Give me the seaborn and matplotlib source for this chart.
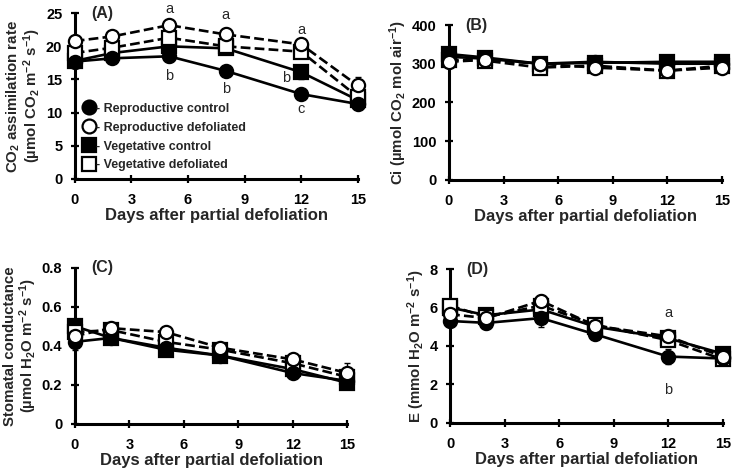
import numpy as np
import pandas as pd
import seaborn as sns
import matplotlib.pyplot as plt
from matplotlib.lines import Line2D

days = [0, 2, 5, 8, 12, 15]
series = ['Reproductive control', 'Reproductive defoliated',
          'Vegetative control', 'Vegetative defoliated']

# (A) CO2 assimilation rate
a_rc = [17.7, 18.2, 18.5, 16.3, 12.8, 11.3]
a_rd = [20.8, 21.5, 23.2, 21.8, 20.3, 14.1]
a_vc = [17.8, 19.0, 20.0, 19.7, 16.1, 11.9]
a_vd = [19.0, 19.8, 21.3, 20.0, 19.2, 12.4]
a_err = [[0.6, 0.6, 0.8, 0.8, 0.8, 0.6], [0.4, 0.5, 0.5, 1.0, 0.5, 1.3],
         [0.5, 0.5, 0.6, 0.6, 1.0, 0.6], [0.5, 0.5, 0.6, 0.6, 0.6, 0.6]]

# (B) Ci
b_rc = [318, 313, 300, 305, 300, 300]
b_rd = [305, 310, 300, 290, 282, 290]
b_vc = [325, 316, 300, 302, 305, 305]
b_vd = [310, 308, 290, 295, 282, 295]
b_err = [[8, 6, 6, 6, 6, 6], [6, 6, 6, 6, 6, 6], [8, 6, 6, 6, 6, 6], [6, 6, 8, 6, 8, 6]]

# (C) stomatal conductance
c_rc = [0.42, 0.44, 0.39, 0.35, 0.26, 0.22]
c_rd = [0.45, 0.49, 0.47, 0.39, 0.33, 0.26]
c_vc = [0.50, 0.44, 0.38, 0.35, 0.28, 0.21]
c_vd = [0.47, 0.48, 0.42, 0.38, 0.31, 0.24]
c_err = [[0.04, 0.02, 0.04, 0.02, 0.02, 0.02], [0.03, 0.02, 0.02, 0.02, 0.02, 0.05],
         [0.03, 0.02, 0.03, 0.02, 0.02, 0.02], [0.03, 0.02, 0.02, 0.02, 0.02, 0.02]]

# (D) E
d_rc = [5.3, 5.2, 5.45, 4.6, 3.45, 3.35]
d_rd = [5.65, 5.45, 6.35, 5.05, 4.5, 3.45]
d_vc = [6.0, 5.6, 5.9, 5.0, 4.4, 3.6]
d_vd = [6.1, 5.5, 6.1, 5.1, 4.3, 3.3]
d_err = [[0.3, 0.3, 0.45, 0.2, 0.4, 0.3], [0.3, 0.3, 0.3, 0.2, 0.2, 0.3],
         [0.3, 0.3, 0.3, 0.2, 0.2, 0.3], [0.3, 0.3, 0.3, 0.2, 0.3, 0.3]]

sns.set_style('white')
plt.rcParams['font.family'] = ['Liberation Sans', 'DejaVu Sans']
plt.rcParams['mathtext.fontset'] = 'custom'
plt.rcParams['mathtext.rm'] = 'Liberation Sans:bold'
plt.rcParams['mathtext.it'] = 'Liberation Sans:bold'
plt.rcParams['mathtext.bf'] = 'Liberation Sans:bold'
plt.rcParams['mathtext.default'] = 'rm'

styles = [dict(marker='o', mfc='black', ls='-'),
          dict(marker='o', mfc='white', ls='--'),
          dict(marker='s', mfc='black', ls='-'),
          dict(marker='s', mfc='white', ls='--')]
draw_order = [2, 3, 0, 1]  # squares first, circles on top

fig = plt.figure(figsize=(7.33, 4.72), dpi=100)
axA = fig.add_axes([0.102, 0.621, 0.386, 0.351])
axB = fig.add_axes([0.6125, 0.619, 0.3725, 0.328])
axC = fig.add_axes([0.102, 0.102, 0.372, 0.331])
axD = fig.add_axes([0.614, 0.104, 0.372, 0.326])

panels = [
    (axA, [a_rc, a_rd, a_vc, a_vd], a_err, 25, 5,
     'CO$_2$ assimilation rate\n(µmol CO$_2$ m$^{-2}$ s$^{-1}$)', '(A)'),
    (axB, [b_rc, b_rd, b_vc, b_vd], b_err, 400, 100,
     'Ci (µmol CO$_2$ mol air$^{-1}$)', '(B)'),
    (axC, [c_rc, c_rd, c_vc, c_vd], c_err, 0.8, 0.2,
     'Stomatal conductance\n(µmol H$_2$O m$^{-2}$ s$^{-1}$)', '(C)'),
    (axD, [d_rc, d_rd, d_vc, d_vd], d_err, 8, 2,
     'E (mmol H$_2$O m$^{-2}$ s$^{-1}$)', '(D)'),
]

for ax, vals, errs, ymax, ystep, ylab, tag in panels:
    for i in draw_order:
        v, e, st = vals[i], errs[i], styles[i]
        ax.errorbar(days, v, yerr=e, fmt='none', ecolor='black',
                    elinewidth=1, capsize=2.5, capthick=1, zorder=2,
                    clip_on=False)
        sns.lineplot(x=days, y=v, ax=ax, color='black', linewidth=1.9,
                     linestyle=st['ls'], marker=st['marker'],
                     markerfacecolor=st['mfc'], markeredgecolor='black',
                     markeredgewidth=1.6, markersize=9.5, zorder=3,
                     clip_on=False)
    ax.set_xlim(0, 15)
    ax.set_ylim(0, ymax)
    ax.set_xticks([0, 3, 6, 9, 12, 15])
    ax.set_yticks(np.arange(0, ymax + ystep / 2, ystep))
    if ymax < 1:
        ax.set_yticklabels(['0', '0.2', '0.4', '0.6', '0.8'])
    ax.set_xlabel('Days after partial defoliation', fontsize=12,
                  fontweight='bold', labelpad=1)
    ax.set_ylabel(ylab, fontsize=10.8, fontweight='bold', labelpad=2,
                  linespacing=1.0)
    sns.despine(ax=ax)
    for s in ['left', 'bottom']:
        ax.spines[s].set_linewidth(2.2)
        ax.spines[s].set_color('black')
    ax.tick_params(axis='both', direction='inout', length=6, width=1.6,
                   colors='black', labelsize=10.5, left=True, bottom=True)
    ax.tick_params(axis='x', pad=7)
    ax.tick_params(axis='y', pad=6)
    for lab in ax.get_xticklabels() + ax.get_yticklabels():
        lab.set_fontweight('bold')
    ax.text(0.06, 1.0, tag, transform=ax.transAxes, fontsize=11.5,
            fontweight='bold', va='center', ha='left')
    ax.patch.set_alpha(0)

# letters in panel A
for x, y, t in [(5, 25.6, 'a'), (5, 15.6, 'b'), (8, 24.8, 'a'),
                (8, 13.5, 'b'), (12, 22.5, 'a'), (11.2, 15.2, 'b'),
                (12, 10.5, 'c')]:
    axA.text(x, y, t, fontsize=10.5, ha='center', va='center')
# letters in panel D
for x, y, t in [(12, 5.7, 'a'), (12, 1.7, 'b')]:
    axD.text(x, y, t, fontsize=10.5, ha='center', va='center')

handles = [Line2D([], [], color='black', linestyle='none', marker=st['marker'],
                  markerfacecolor=st['mfc'], markeredgecolor='black',
                  markeredgewidth=1.6, markersize=10) for st in styles]
axA.legend(handles, ['- ' + s for s in series], loc='lower left',
           bbox_to_anchor=(0.0, 0.0), frameon=False,
           handlelength=1.0, handletextpad=0.1, labelspacing=0.55,
           borderaxespad=0.2, prop={'weight': 'bold', 'size': 9})

fig.savefig('out.png', dpi=100)
